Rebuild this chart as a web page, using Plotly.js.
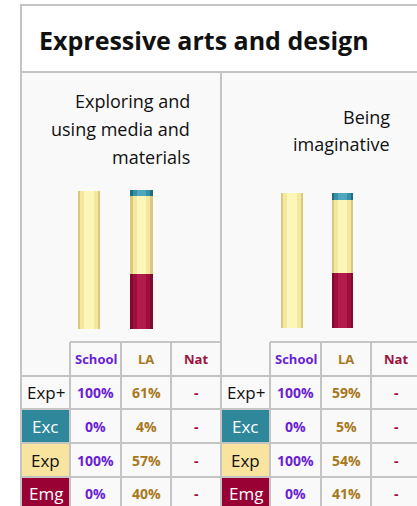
<!DOCTYPE html>
<html><head><meta charset="utf-8">
<script src="https://cdn.plot.ly/plotly-3.0.1.min.js"></script>
<style>html,body{margin:0;padding:0;background:#fff;}#chart{width:417px;height:506px;}</style>
</head><body><div id="chart"></div>
<script>
// ---- data ----
const title = 'Expressive arts and design';
const panelTitleLines = [['Exploring and', 'using media and', 'materials'], ['Being', 'imaginative']];
const categories = ['School', 'LA'];
const columns = ['School', 'LA', 'Nat'];
const rowLabels = ['Exp+', 'Exc', 'Exp', 'Emg'];
// panel 1
const p1Emg = [0, 40];
const p1Exp = [100, 57];
const p1Exc = [0, 4];
const p1ExpPlus = [100, 61];
// panel 2
const p2Emg = [0, 41];
const p2Exp = [100, 54];
const p2Exc = [0, 5];
const p2ExpPlus = [100, 59];
const natValues = ['-', '-', '-', '-'];

// ---- helpers ----
const W = 417, H = 506;
const px = x => x / W;
const py = y => 1 - y / H;
const font = 'Open Sans, Noto Sans, sans-serif';
const gridCol = '#c4c4c4';

const segColors = {
  Emg: ['#7f0b2d', '#a10d3f', '#b21c4d'],
  Exp: ['#d8c97f', '#f3e89e', '#fcf6b8'],
  Exc: ['#1f6d80', '#3590a8', '#4ea7bd']
};
const layerWidths = [0.42, 0.34, 0.18];

const panels = [
  {emg: p1Emg, exp: p1Exp, exc: p1Exc, expPlus: p1ExpPlus, dom: [[62.75, 167.75], [190, 329]], x0: 21,
   titleX: 192, titleY: [101, 129, 157]},
  {emg: p2Emg, exp: p2Exp, exc: p2Exc, expPlus: p2ExpPlus, dom: [[266.75, 367.75], [192, 328]], x0: 221,
   titleX: 392, titleY: [117, 144]}
];

const traces = [];
const layout = {
  width: W, height: H,
  margin: {l: 0, r: 0, t: 0, b: 0},
  paper_bgcolor: '#ffffff', plot_bgcolor: 'rgba(0,0,0,0)',
  showlegend: false, barmode: 'stack',
  shapes: [], annotations: []
};

let axN = 0;
panels.forEach((p, pi) => {
  layerWidths.forEach((w, li) => {
    axN++;
    const xa = axN === 1 ? 'x' : 'x' + axN;
    const ya = axN === 1 ? 'y' : 'y' + axN;
    const xk = axN === 1 ? 'xaxis' : 'xaxis' + axN;
    const yk = axN === 1 ? 'yaxis' : 'yaxis' + axN;
    layout[xk] = {domain: [px(p.dom[0][0]), px(p.dom[0][1])], range: [-0.5, 1.5], visible: false, fixedrange: true, anchor: ya};
    layout[yk] = {domain: [py(p.dom[1][1]), py(p.dom[1][0])], range: [0, 101], visible: false, fixedrange: true, anchor: xa};
    [['Emg', p.emg], ['Exp', p.exp], ['Exc', p.exc]].forEach(([name, vals]) => {
      traces.push({
        type: 'bar', x: [0, 1], y: vals, name: name, width: w,
        xaxis: xa, yaxis: ya,
        marker: {color: segColors[name][li], line: {width: 0}},
        hoverinfo: 'skip'
      });
    });
  });
});

// background cells
layout.shapes.push({type: 'rect', xref: 'paper', yref: 'paper', x0: px(21), x1: px(417), y0: py(506), y1: py(72), fillcolor: '#f9f9f9', line: {width: 0}, layer: 'below'});
layout.shapes.push({type: 'rect', xref: 'paper', yref: 'paper', x0: px(21), x1: px(417), y0: py(72), y1: py(5), fillcolor: '#ffffff', line: {width: 0}, layer: 'below'});

function line(x0, y0, x1, y1) {
  layout.shapes.push({type: 'line', xref: 'paper', yref: 'paper', x0: px(x0), y0: py(y0), x1: px(x1), y1: py(y1), line: {color: gridCol, width: 2}});
}
// outer frame
line(21, 5, 21, 506);
line(20, 5, 417, 5);
line(21, 72, 417, 72);
line(221, 72, 221, 506);

layout.annotations.push({text: '<b>' + title + '</b>', xref: 'paper', yref: 'paper', x: px(204), y: py(40), showarrow: false, font: {family: font, size: 25, color: '#111'}, xanchor: 'center', yanchor: 'middle'});

const rowEdges = [342, 376, 409, 443, 477, 510];
const labelFill = {'Exp+': null, 'Exc': '#2e879b', 'Exp': '#f8e49f', 'Emg': '#990033'};
const labelText = {'Exp+': '#111', 'Exc': '#fff', 'Exp': '#111', 'Emg': '#fff'};
const colColors = ['#6a1fd4', '#a8781c', '#9e1240'];

panels.forEach((p, pi) => {
  const c = [p.x0, p.x0 + 49, p.x0 + 100, p.x0 + 150, p.x0 + 200];
  // panel title lines
  panelTitleLines[pi].forEach((t, k) => {
    layout.annotations.push({text: t, xref: 'paper', yref: 'paper', x: px(p.titleX), y: py(p.titleY[k]), xanchor: 'right', yanchor: 'middle', showarrow: false, font: {family: font, size: 18, color: '#111'}});
  });
  // label fills
  rowLabels.forEach((r, ri) => {
    if (labelFill[r]) layout.shapes.push({type: 'rect', xref: 'paper', yref: 'paper', x0: px(c[0] + 1), x1: px(c[1] - 1), y0: py(rowEdges[ri + 2] - 1), y1: py(rowEdges[ri + 1] + 1), fillcolor: labelFill[r], line: {width: 0}, layer: 'below'});
  });
  // grid lines
  line(c[1], 342, c[4], 342);
  for (let r = 1; r < rowEdges.length; r++) line(c[0], rowEdges[r], c[4], rowEdges[r]);
  for (let k = 1; k < 4; k++) line(c[k], 342, c[k], 506);
  // header
  columns.forEach((col, ci) => {
    layout.annotations.push({text: '<b>' + col + '</b>', xref: 'paper', yref: 'paper', x: px((c[ci + 1] + c[ci + 2]) / 2), y: py(359), showarrow: false, xanchor: 'center', yanchor: 'middle', font: {family: font, size: 13, color: colColors[ci]}});
  });
  // rows
  const schoolVals = [p.expPlus[0], p.exc[0], p.exp[0], p.emg[0]];
  const laVals = [p.expPlus[1], p.exc[1], p.exp[1], p.emg[1]];
  rowLabels.forEach((r, ri) => {
    const yc = (rowEdges[ri + 1] + rowEdges[ri + 2]) / 2;
    layout.annotations.push({text: r, xref: 'paper', yref: 'paper', x: px((c[0] + c[1]) / 2), y: py(yc), showarrow: false, xanchor: 'center', yanchor: 'middle', font: {family: font, size: 17, color: labelText[r]}});
    const cells = [schoolVals[ri] + '%', laVals[ri] + '%', natValues[ri]];
    cells.forEach((t, ci) => {
      layout.annotations.push({text: '<b>' + t + '</b>', xref: 'paper', yref: 'paper', x: px((c[ci + 1] + c[ci + 2]) / 2), y: py(yc), showarrow: false, xanchor: 'center', yanchor: 'middle', font: {family: font, size: 14, color: colColors[ci]}});
    });
  });
});

Plotly.newPlot('chart', traces, layout, {staticPlot: true, displayModeBar: false});
</script></body></html>
